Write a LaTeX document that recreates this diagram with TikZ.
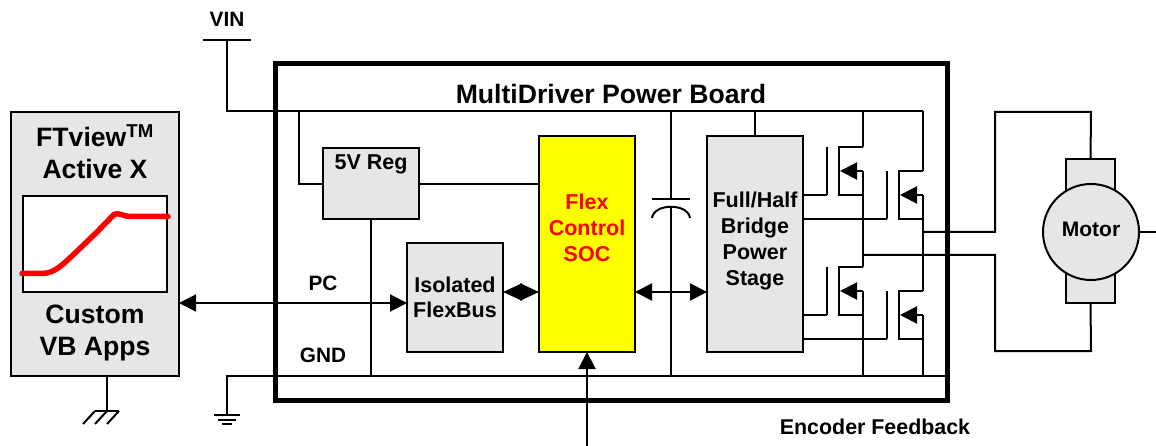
\documentclass[tikz,border=0pt]{standalone}
\usepackage{fontspec}
\setmainfont{Liberation Sans}
\usetikzlibrary{arrows.meta}
\definecolor{boxgray}{HTML}{E6E6E6}
\definecolor{socyellow}{HTML}{FFFF00}
\definecolor{purered}{HTML}{FF0000}
\tikzset{
  every node/.style={outer sep=0pt},
  wire/.style={draw=black,line width=2pt},
  tipped/.style={wire,{Triangle[length=17pt,width=17pt]}-{Triangle[length=17pt,width=17pt]}},
  meeting/.style={wire,{Triangle[length=19pt,width=17pt]}-{Triangle[length=19pt,width=17pt]}},
  onetip/.style={wire,-{Triangle[length=17pt,width=17pt]}},
  block/.style={draw=black,line width=2.2pt,fill=boxgray,inner sep=0pt,align=center,anchor=north west,font=\fontsize{21.5}{25}\selectfont\bfseries},
  lbl/.style={inner sep=0pt,font=\fontsize{20.8}{24}\selectfont\bfseries},
  boxtext/.style={inner sep=0pt,align=center,font=\fontsize{21.5}{26}\selectfont\bfseries},
}
\newcommand{\fetsym}[2]{%
  \begin{scope}[shift={(#1,#2)}]
    \coordinate (gt) at (0,0); \coordinate (gb) at (0,48);
    \coordinate (ct) at (12,0); \coordinate (cb) at (12,48);
    \coordinate (dr) at (36,0); \coordinate (so) at (36,48);
    \coordinate (ar) at (36,24); \coordinate (am) at (13,24);
    \draw[wire,line join=miter] (gt) -- (gb);
    \draw[wire,line join=miter] (dr) -- (ct) -- (cb) -- (so) -- (ar);
    \draw[onetip] (ar) -- (am);
  \end{scope}}
\begin{document}
\begin{tikzpicture}[x=1pt,y=-1pt]
\useasboundingbox (0,0) rectangle (1156,446);
% board
\node[draw=black,line width=5pt,minimum width=672pt,minimum height=336pt,inner sep=0pt,anchor=north west] (board) at (275,64) {};
\node[inner sep=0pt,font=\fontsize{26.6}{30}\selectfont\bfseries] (title) at (611,94) {MultiDriver Power Board};
% rails
\coordinate (vintop) at (227,40);
\coordinate (vinL) at (203,40);
\coordinate (vinR) at (251,40);
\coordinate (vcorner) at (227,111);
\coordinate (vend) at (923,111);
\coordinate (gndL) at (227,375.5);
\coordinate (gndR) at (947,375.5);
\coordinate (gndB) at (227,415);
\draw[wire] (vinL) -- (vinR);
\draw[wire] (vintop) -- (vcorner) -- (vend);
\draw[wire] (gndB) -- (gndL) -- (gndR);
\draw[wire] (214,415) -- (240,415);
\draw[wire] (218,419.5) -- (236,419.5);
\draw[wire] (222,424) -- (232,424);
\node[lbl] (vin) at (227,19) {VIN};
\node[lbl] (pc) at (323,283) {PC};
\node[lbl] (gnd) at (323,355) {GND};
\node[lbl,font=\fontsize{21.4}{24}\selectfont\bfseries] (enc) at (875,427) {Encoder Feedback};
% blocks
\node[block,minimum width=96pt,minimum height=71pt] (reg) at (323,148) {};
\node[boxtext] (regt) at (371,164.5) {5V Reg};
\node[block,minimum width=96pt,minimum height=109pt] (bus) at (407,243) {Isolated\\FlexBus};
\node[block,fill=socyellow,minimum width=96pt,minimum height=216pt] (soc) at (539,136) {};
\node[boxtext,text=purered] (soct) at (587,228) {Flex\\Control\\SOC};
\node[block,minimum width=96pt,minimum height=216pt] (bridge) at (707,136) {};
\node[boxtext] (bridget) at (755,241) {Full/Half\\Bridge\\Power\\Stage};
% block wiring
\draw[wire] (299,111) -- (299,184) -- (reg.west |- 0,184);
\draw[wire] (reg.east |- 0,184) -- (soc.west |- 0,184);
\draw[wire] (reg.south) -- (371,375.5);
\draw[wire] (bridge.north) -- (755,111);
% capacitor
\coordinate (captop) at (671,199);
\coordinate (capbot) at (671,207);
\draw[wire] (671,111) -- (captop);
\draw[wire] (652,199) -- (690,199);
\draw[wire] (652,218) .. controls (654,203) and (688,203) .. (690,218);
\draw[wire] (capbot) -- (671,375.5);
% left panel
\node[block,minimum width=168pt,minimum height=264pt] (pcbox) at (11,112) {};
\node[inner sep=0pt,align=center,font=\fontsize{26.6}{32}\selectfont\bfseries] (ft) at (95,152) {FTview\textsuperscript{TM}\\Active X};
\node[inner sep=0pt,align=center,font=\fontsize{26.6}{32}\selectfont\bfseries] (cu) at (95,332.5) {Custom\\VB Apps};
\node[draw=black,line width=2pt,fill=white,minimum width=144pt,minimum height=96pt,inner sep=0pt,anchor=north west] (chart) at (23,196) {};
\draw[purered,line width=5.5pt,line cap=round,line join=round] (22,273.5) -- (43,273.5) .. controls (55,273) and (63,264) .. (72,256) -- (96,233) -- (114,214.5) .. controls (118,212) and (122,216) .. (130,216.5) -- (168,216.5);
% ground hatch
\coordinate (hatch) at (107,411);
\draw[wire] (pcbox.south -| hatch) -- (hatch);
\draw[wire] (95,411) -- (119,411);
\draw[wire] (95,411) -- (83,424);
\draw[wire] (107,411) -- (95,424);
\draw[wire] (119,411) -- (107,424);
% arrows
\draw[tipped] (pcbox.east |- 0,303) -- (bus.west |- 0,303);
\draw[meeting] (bus.east |- 0,292) -- (soc.west |- 0,292);
\draw[tipped] (soc.east |- 0,292) -- (bridge.west |- 0,292);
\coordinate (encstart) at (587,446);
\draw[onetip] (encstart) -- (soc.south);
% FETs
\fetsym{827}{147}
\fetsym{887}{171}
\fetsym{827}{267}
\fetsym{887}{291}
\draw[wire] (863,111) -- (863,147);
\draw[wire] (863,171) -- (863,267);
\draw[wire] (863,291) -- (863,375.5);
\draw[wire] (923,111) -- (923,171);
\draw[wire] (923,195) -- (923,291);
\draw[wire] (923,315) -- (923,375.5);
\draw[wire] (803,195) -- (827,195);
\draw[wire] (803,219) -- (887,219);
\draw[wire] (803,315) -- (827,315);
\draw[wire] (803,339) -- (887,339);
% motor
\node[draw=black,line width=2.2pt,fill=boxgray,minimum width=49pt,minimum height=144pt,inner sep=0pt,anchor=north west] (brush) at (1066,159) {};
\node[draw=black,line width=2pt,fill=boxgray,circle,minimum size=96pt,inner sep=0pt] (motor) at (1091,232) {};
\node[boxtext,font=\fontsize{21}{24}\selectfont\bfseries] (motort) at (1091,229.5) {Motor};
\coordinate (mt) at (995,112);
\coordinate (mb) at (995,351);
\coordinate (mend) at (1156,232);
\draw[wire] (923,232) -- (995,232) -- (mt) -- (1091,112) -- (brush.north);
\draw[wire] (863,255) -- (995,255) -- (mb) -- (1091,351) -- (brush.south);
\draw[wire] (motor.east) -- (mend);
\end{tikzpicture}
\end{document}
